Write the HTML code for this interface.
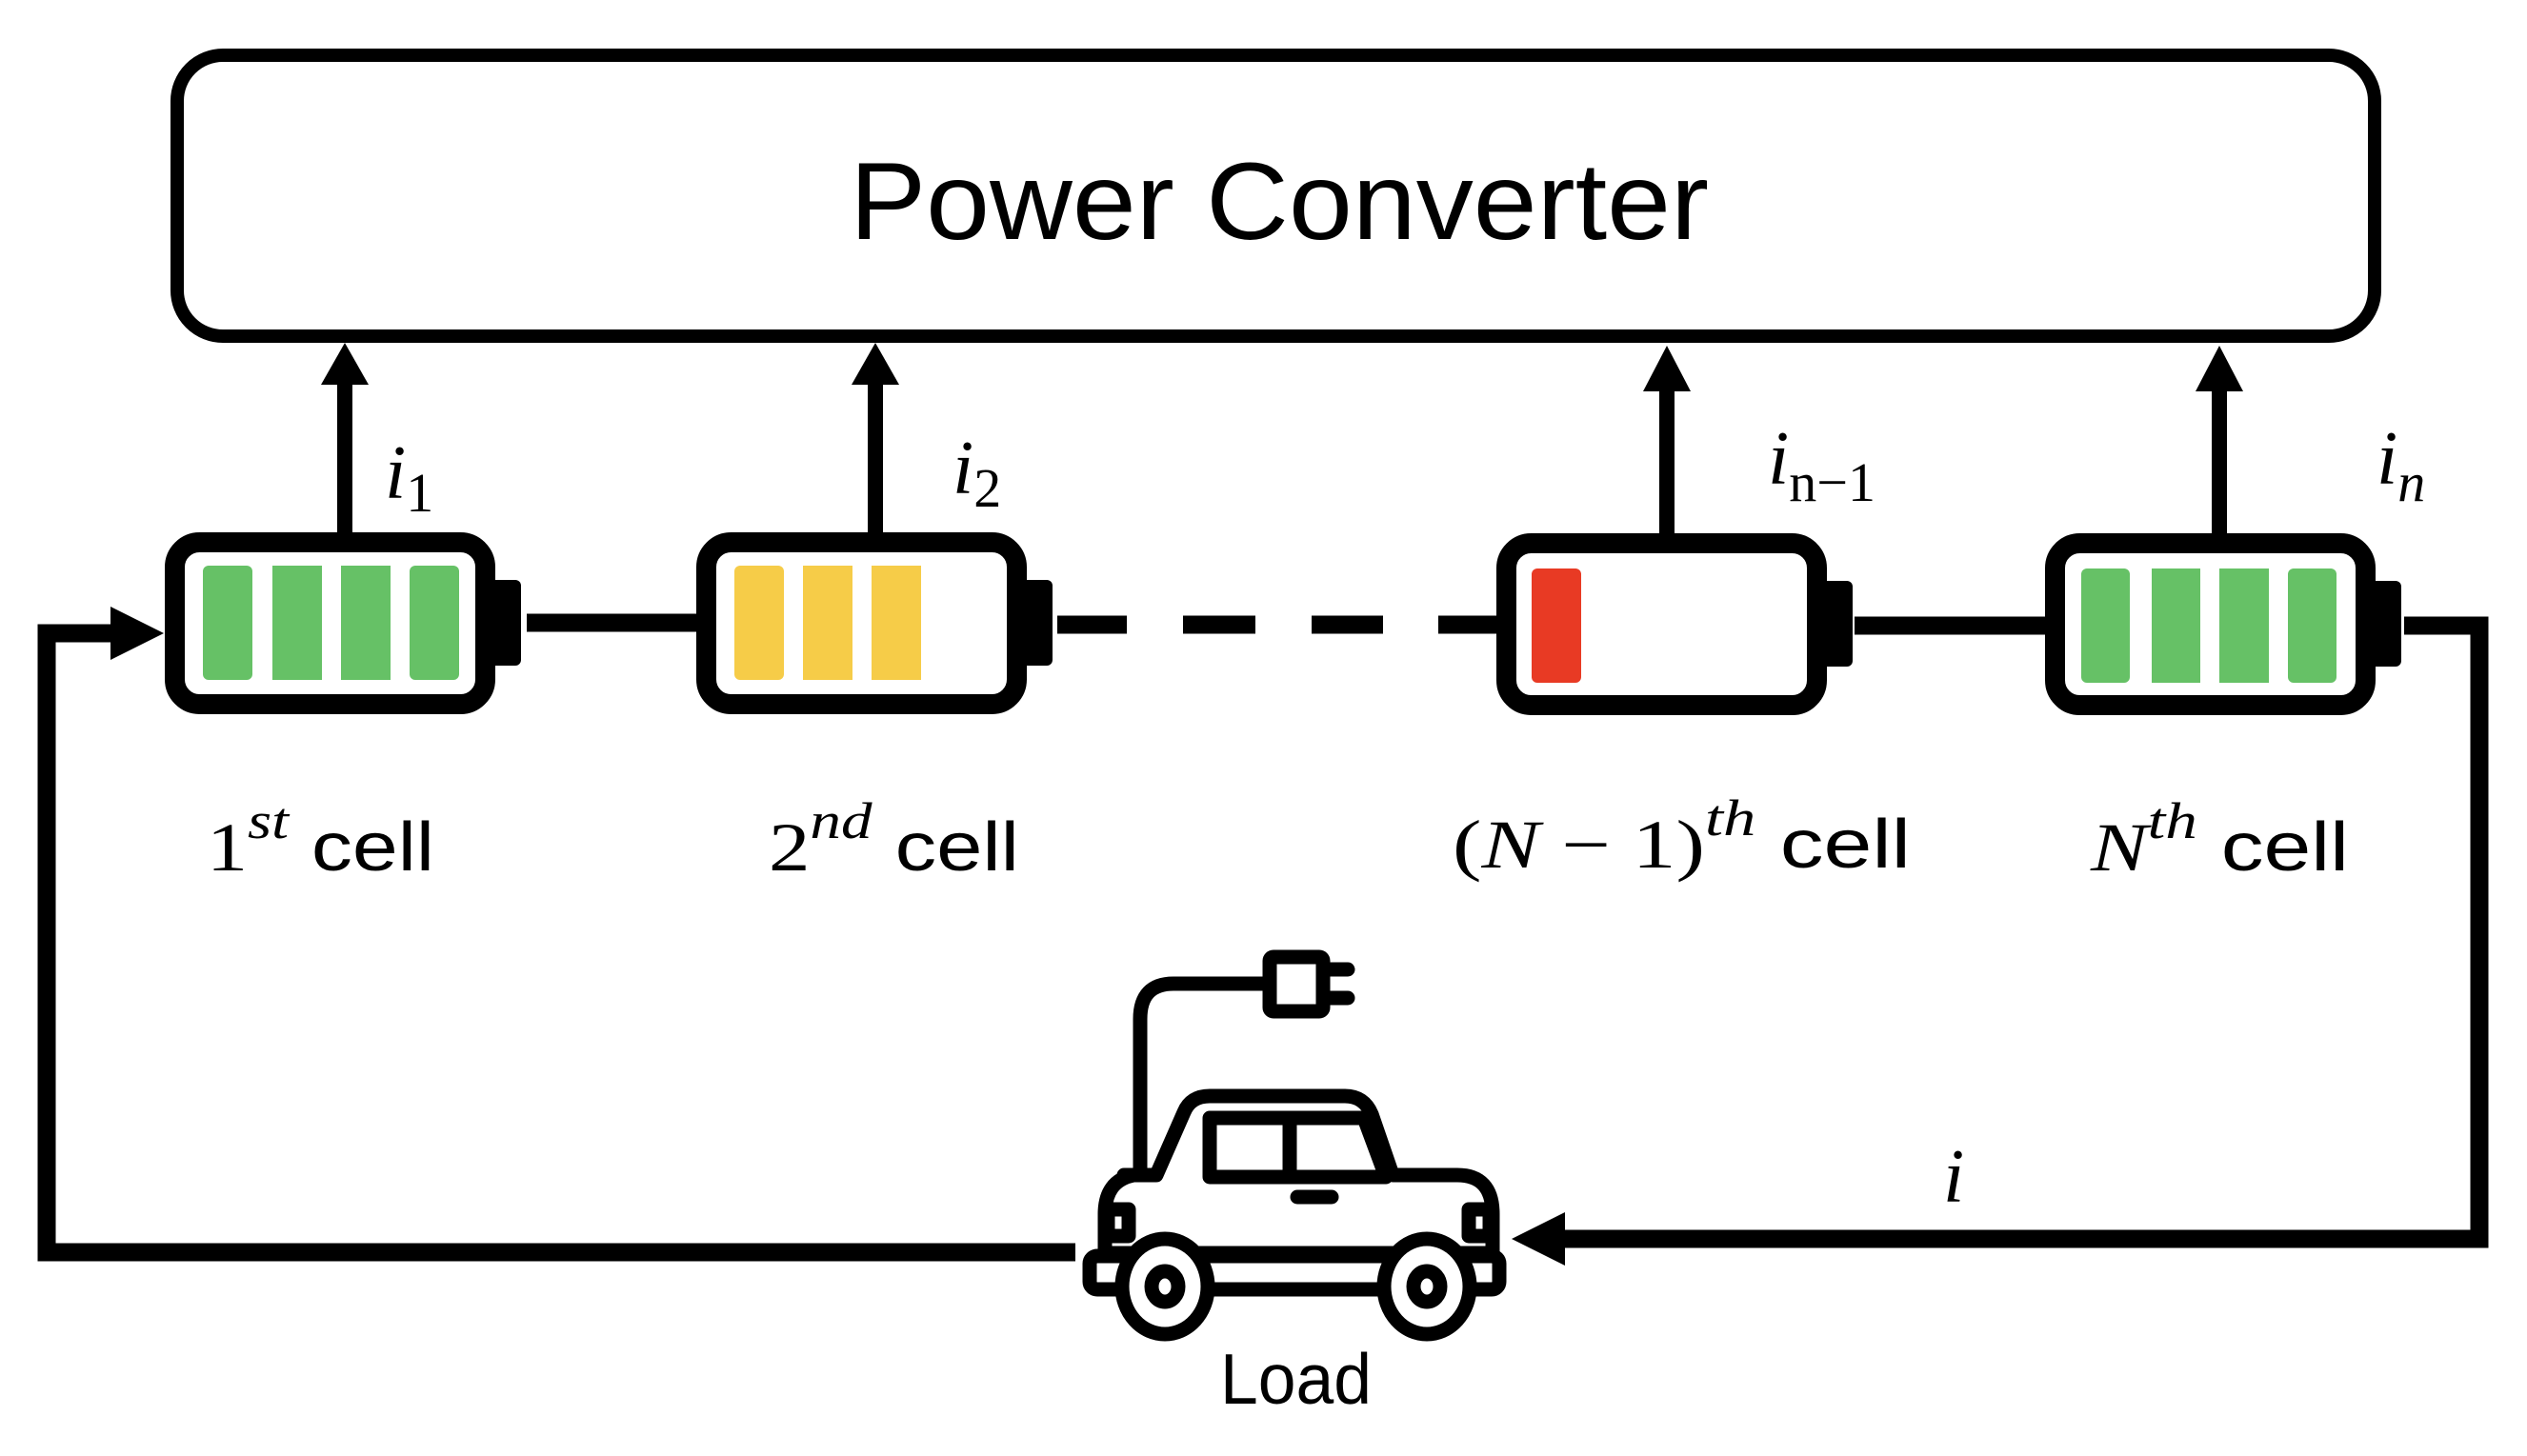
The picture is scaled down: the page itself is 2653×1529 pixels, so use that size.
<!DOCTYPE html>
<html><head><meta charset="utf-8"><style>html,body{margin:0;padding:0;background:#fff}svg{display:block}</style></head>
<body>
<svg width="2653" height="1529" viewBox="0 0 2653 1529" xmlns="http://www.w3.org/2000/svg">
<defs>
<g id="bat">
<rect x="10.5" y="10.5" width="326" height="170" rx="26" fill="#fff" stroke="#000" stroke-width="21"/>
<rect x="340" y="50" width="34" height="90" rx="6" fill="#000"/>
</g>
</defs>
<rect x="186" y="58" width="2307" height="295" rx="48" fill="#fff" stroke="#000" stroke-width="14"/>
<text x="892" y="251" font-family="Liberation Sans, sans-serif" font-size="115" textLength="902" lengthAdjust="spacingAndGlyphs">Power Converter</text>

<g fill="#000" stroke="#000">
<line x1="362" y1="400" x2="362" y2="562" stroke-width="16"/>
<polygon points="362,360 337,404 387,404" stroke="none"/>
<line x1="919" y1="400" x2="919" y2="562" stroke-width="16"/>
<polygon points="919,360 894,404 944,404" stroke="none"/>
<line x1="1750" y1="405" x2="1750" y2="562" stroke-width="16"/>
<polygon points="1750,363 1725,411 1775,411" stroke="none"/>
<line x1="2330" y1="405" x2="2330" y2="562" stroke-width="16"/>
<polygon points="2330,363 2305,411 2355,411" stroke="none"/>
</g>

<use href="#bat" x="173" y="559"/>
<use href="#bat" x="731" y="559"/>
<use href="#bat" x="1571" y="560"/>
<use href="#bat" x="2147" y="560"/>
<g fill="#66C166">
<rect x="213" y="594" width="52" height="120" rx="6"/><rect x="286" y="594" width="52" height="120"/><rect x="358" y="594" width="52" height="120"/><rect x="430" y="594" width="52" height="120" rx="6"/>
<rect x="2185" y="597" width="51" height="120" rx="6"/><rect x="2259" y="597" width="51" height="120"/><rect x="2330" y="597" width="52" height="120"/><rect x="2402" y="597" width="51" height="120" rx="6"/>
</g>
<g fill="#F6CC48">
<rect x="771" y="594" width="52" height="120" rx="6"/><rect x="843" y="594" width="52" height="120"/><rect x="915" y="594" width="52" height="120"/>
</g>
<rect x="1608" y="597" width="52" height="120" rx="6" fill="#E83A24"/>

<g stroke="#000" stroke-width="19" fill="none">
<line x1="553" y1="654" x2="731" y2="654"/>
<line x1="1110" y1="656" x2="1183" y2="656"/>
<line x1="1242" y1="656" x2="1318" y2="656"/>
<line x1="1377" y1="656" x2="1452" y2="656"/>
<line x1="1510" y1="656" x2="1571" y2="656"/>
<line x1="1947" y1="657" x2="2147" y2="657"/>
<polyline points="2524,657 2603,657 2603,1301 1640,1301"/>
<polyline points="1129,1315 49,1315 49,665 120,665"/>
</g>
<polygon points="172,665 116,637 116,693" fill="#000"/>
<polygon points="1587,1301 1643,1273 1643,1329" fill="#000"/>

<g font-family="Liberation Serif, serif" fill="#000">
<text x="404" y="523" font-size="80" font-style="italic">i<tspan font-style="normal" font-size="58" dy="14">1</tspan></text>
<text x="1000" y="518" font-size="80" font-style="italic">i<tspan font-style="normal" font-size="58" dy="14">2</tspan></text>
<text x="1856" y="508" font-size="80" font-style="italic">i<tspan font-style="normal" font-size="58" dy="18">n−1</tspan></text>
<text x="2495" y="508" font-size="80" font-style="italic">i<tspan font-size="58" dy="18">n</tspan></text>
<text x="2040" y="1262" font-size="80" font-style="italic">i</text>
</g>

<g font-size="72" fill="#000">
<text x="217" y="914" textLength="239" lengthAdjust="spacingAndGlyphs"><tspan font-family="Liberation Serif, serif">1</tspan><tspan font-family="Liberation Serif, serif" font-style="italic" font-size="54" dy="-34">st</tspan><tspan font-family="Liberation Sans, sans-serif" dy="34"> cell</tspan></text>
<text x="807" y="914" textLength="263" lengthAdjust="spacingAndGlyphs"><tspan font-family="Liberation Serif, serif">2</tspan><tspan font-family="Liberation Serif, serif" font-style="italic" font-size="54" dy="-34">nd</tspan><tspan font-family="Liberation Sans, sans-serif" dy="34"> cell</tspan></text>
<text x="1525" y="911" textLength="481" lengthAdjust="spacingAndGlyphs"><tspan font-family="Liberation Serif, serif">(</tspan><tspan font-family="Liberation Serif, serif" font-style="italic">N</tspan><tspan font-family="Liberation Serif, serif"> − 1)</tspan><tspan font-family="Liberation Serif, serif" font-style="italic" font-size="54" dy="-34">th</tspan><tspan font-family="Liberation Sans, sans-serif" dy="34"> cell</tspan></text>
<text x="2195" y="914" textLength="271" lengthAdjust="spacingAndGlyphs"><tspan font-family="Liberation Serif, serif" font-style="italic">N</tspan><tspan font-family="Liberation Serif, serif" font-style="italic" font-size="54" dy="-34">th</tspan><tspan font-family="Liberation Sans, sans-serif" dy="34"> cell</tspan></text>
</g>

<g fill="none" stroke="#000" stroke-width="15" stroke-linejoin="round" stroke-linecap="round">
<rect x="1333" y="1005" width="56" height="57" rx="4"/>
<line x1="1389" y1="1018" x2="1415" y2="1018"/>
<line x1="1389" y1="1048" x2="1415" y2="1048"/>
<path d="M1333,1033 H1232 Q1197,1033 1197,1070 V1229"/>
<path d="M1180,1234 L1214,1234 L1243,1168 Q1250,1151 1270,1151 H1412 Q1432,1151 1440,1170 L1462,1234 H1530 Q1567,1234 1567,1275 V1316 H1160 V1275 Q1160,1240 1190,1234"/>
<path d="M1270,1174 H1432 L1455,1236 H1270 Z"/>
<line x1="1354" y1="1174" x2="1354" y2="1236"/>
<line x1="1362" y1="1257" x2="1398" y2="1257"/>
<rect x="1163" y="1270" width="22" height="28"/>
<rect x="1542" y="1270" width="22" height="28"/>
<rect x="1144" y="1319" width="430" height="35" rx="8" fill="#fff"/>
<ellipse cx="1223" cy="1351" rx="45" ry="50" fill="#fff"/>
<ellipse cx="1223" cy="1351" rx="14" ry="16"/>
<ellipse cx="1498" cy="1351" rx="45" ry="50" fill="#fff"/>
<ellipse cx="1498" cy="1351" rx="14" ry="16"/>
</g>
<text x="1281" y="1474" font-family="Liberation Sans, sans-serif" font-size="75" textLength="159" lengthAdjust="spacingAndGlyphs">Load</text>
</svg>
</body></html>
